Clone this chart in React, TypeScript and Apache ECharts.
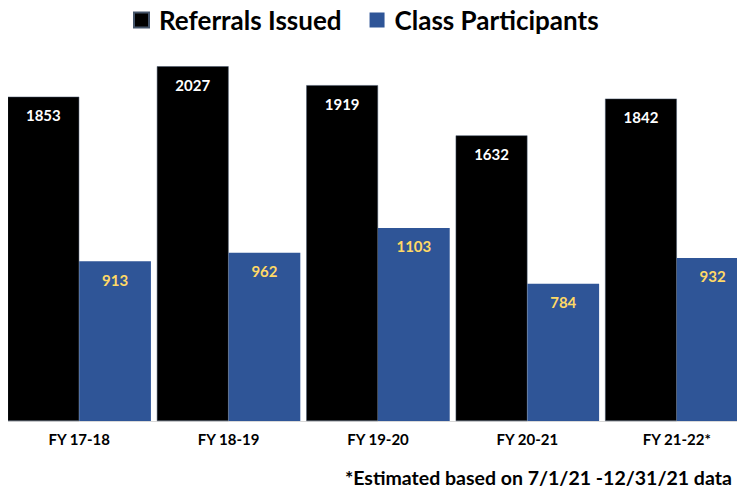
import React, { useEffect, useRef } from "react";
import * as echarts from "echarts";

const categories = ["FY 17-18", "FY 18-19", "FY 19-20", "FY 20-21", "FY 21-22*"];
const referrals = [1853, 2027, 1919, 1632, 1842];
const participants = [913, 962, 1103, 784, 932];
const footnote = "*Estimated based on 7/1/21 -12/31/21 data";

const FONT = "Lato, 'Open Sans', sans-serif";

export default function App() {
  const ref = useRef<HTMLDivElement>(null);
  useEffect(() => {
    if (!ref.current) return;
    const chart = echarts.init(ref.current, null, { renderer: "svg" });
    chart.setOption({
      animation: false,
      backgroundColor: "#ffffff",
      textStyle: { fontFamily: FONT },
      legend: {
        top: 2,
        left: 128,
        itemWidth: 15,
        itemHeight: 15,
        itemGap: 28,
        icon: "rect",
        textStyle: {
          fontSize: 26,
          fontWeight: "bold",
          color: "#000",
          fontFamily: FONT,
          padding: [0, 0, 0, 5],
        },
        data: ["Referrals Issued", "Class Participants"],
      },
      grid: { left: 4.5, width: 747, top: 36, bottom: 74, containLabel: false },
      xAxis: {
        type: "category",
        data: categories,
        axisTick: { show: false },
        axisLine: { lineStyle: { color: "#d9d9d9", width: 1 } },
        axisLabel: { fontSize: 15, fontWeight: "bold", color: "#000", margin: 10, fontFamily: FONT },
      },
      yAxis: { type: "value", min: 0, max: 2200, show: false, splitLine: { show: false } },
      series: [
        {
          name: "Referrals Issued",
          type: "bar",
          data: referrals,
          barGap: "0%",
          barCategoryGap: "4%",
          itemStyle: { color: "#000000", borderColor: "#44546a", borderWidth: 0.5 },
          label: {
            show: true,
            position: "insideTop",
            distance: 11,
            color: "#ffffff",
            fontSize: 15,
            fontWeight: "bold",
            fontFamily: FONT,
          },
        },
        {
          name: "Class Participants",
          type: "bar",
          data: participants,
          barGap: "0%",
          barCategoryGap: "4%",
          itemStyle: { color: "#2f5597" },
          label: {
            show: true,
            position: "insideTop",
            distance: 11,
            color: "#ffd966",
            fontSize: 15,
            fontWeight: "bold",
            fontFamily: FONT,
          },
        },
      ],
      graphic: [
        {
          type: "text",
          left: 345,
          top: 467,
          style: {
            text: footnote,
            font: `bold 19.5px ${FONT}`,
            fill: "#000",
          },
        },
      ],
    });
    return () => chart.dispose();
  }, []);
  return (
    <div style={{ width: 745, height: 495, margin: -8, overflow: "hidden", position: "relative" }}>
      <div ref={ref} style={{ width: 760, height: 495 }} />
    </div>
  );
}
